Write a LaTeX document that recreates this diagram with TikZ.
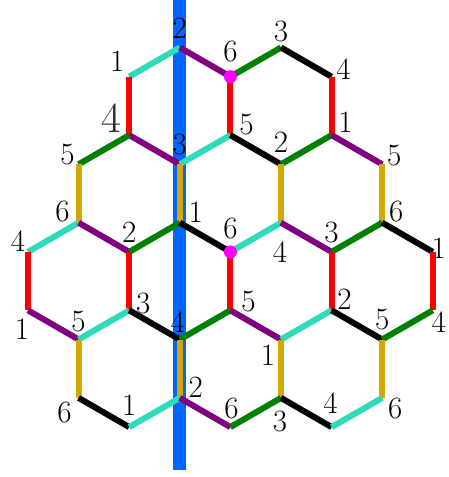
\documentclass[tikz,border=0pt]{standalone}
\usepackage{fontspec}
\definecolor{cCy}{RGB}{45,218,185}
\definecolor{cPu}{RGB}{128,0,128}
\definecolor{cGr}{RGB}{0,128,0}
\definecolor{cRd}{RGB}{255,0,0}
\definecolor{cYe}{RGB}{212,168,0}
\definecolor{cBl}{RGB}{0,102,255}
\definecolor{cMg}{RGB}{255,0,255}
\begin{document}
\begin{tikzpicture}[x=1pt,y=-1pt,
  edge/.style={line width=6pt,line cap=butt},
  ecyan/.style={edge,draw=cCy},
  epurple/.style={edge,draw=cPu},
  egreen/.style={edge,draw=cGr},
  eblack/.style={edge,draw=black},
  ered/.style={edge,draw=cRd},
  eyellow/.style={edge,draw=cYe},
  blueline/.style={line width=13pt,draw=cBl},
  lab/.style={inner sep=0pt,font=\fontsize{31}{36}\selectfont},
  biglab/.style={inner sep=0pt,font=\fontsize{43}{50}\selectfont,text=black!85},
  dot/.style={circle,fill=cMg,inner sep=0pt,minimum size=13pt}]
\useasboundingbox (0,0) rectangle (448,477);
\foreach \c in {0,...,8}{
  \foreach \l/\yy in {0/47.5,1/76.7,2/135.1,3/164.3,4/222.7,5/251.9,6/310.3,7/339.5,8/397.9,9/427.1}{
    \coordinate (v\c\l) at ({28+50.6*\c},\yy);
  }
}
\coordinate (btop) at (179.8,0);
\coordinate (bbot) at (179.8,470);
\draw[blueline] (btop) -- (bbot);
% top row
\draw[ecyan] (v21) -- (v30);
\draw[epurple] (v30) -- (v41);
\draw[egreen] (v41) -- (v50);
\draw[eblack] (v50) -- (v61);
\draw[ered] (v21) -- (v22);
\draw[ered] (v41) -- (v42);
\draw[ered] (v61) -- (v62);
\draw[epurple] (v22) -- (v33);
\draw[ecyan] (v33) -- (v42);
\draw[eblack] (v42) -- (v53);
\draw[egreen] (v53) -- (v62);
\draw[epurple] (v62) -- (v73);
\draw[egreen] (v13) -- (v22);
% second row
\draw[eyellow] (v13) -- (v14);
\draw[eyellow] (v33) -- (v34);
\draw[eyellow] (v53) -- (v54);
\draw[eyellow] (v73) -- (v74);
\draw[ecyan] (v05) -- (v14);
\draw[epurple] (v14) -- (v25);
\draw[egreen] (v25) -- (v34);
\draw[eblack] (v34) -- (v45);
\draw[ecyan] (v45) -- (v54);
\draw[epurple] (v54) -- (v65);
\draw[egreen] (v65) -- (v74);
\draw[eblack] (v74) -- (v85);
% third row
\draw[ered] (v05) -- (v06);
\draw[ered] (v25) -- (v26);
\draw[ered] (v45) -- (v46);
\draw[ered] (v65) -- (v66);
\draw[ered] (v85) -- (v86);
\draw[epurple] (v06) -- (v17);
\draw[ecyan] (v17) -- (v26);
\draw[eblack] (v26) -- (v37);
\draw[egreen] (v37) -- (v46);
\draw[epurple] (v46) -- (v57);
\draw[ecyan] (v57) -- (v66);
\draw[eblack] (v66) -- (v77);
\draw[egreen] (v77) -- (v86);
% bottom row
\draw[eyellow] (v17) -- (v18);
\draw[eyellow] (v37) -- (v38);
\draw[eyellow] (v57) -- (v58);
\draw[eyellow] (v77) -- (v78);
\draw[eblack] (v18) -- (v29);
\draw[ecyan] (v29) -- (v38);
\draw[epurple] (v38) -- (v49);
\draw[egreen] (v49) -- (v58);
\draw[eblack] (v58) -- (v69);
\draw[ecyan] (v69) -- (v78);
% dots
\node[dot] (d1) at (v41) {};
\node[dot] (d2) at (v45) {};
% labels
\node[lab] (t30) at ([shift={(0,-19)}]v30) {2};
\node[lab] (t21) at ([shift={(-12,-15)}]v21) {1};
\node[lab] (t41) at ([shift={(0,-25)}]v41) {6};
\node[lab] (t50) at ([shift={(0,-16)}]v50) {3};
\node[lab] (t61) at ([shift={(12,-8)}]v61) {4};
\node[biglab] (t22) at ([shift={(-18,-17)}]v22) {4};
\node[lab] (t42) at ([shift={(16,-11)}]v42) {5};
\node[lab] (t62) at ([shift={(14,-13)}]v62) {1};
\node[lab] (t13) at ([shift={(-11,-10)}]v13) {5};
\node[lab] (t33) at ([shift={(0,-20)}]v33) {3};
\node[lab] (t53) at ([shift={(0,-22)}]v53) {2};
\node[lab] (t73) at ([shift={(12,-9)}]v73) {5};
\node[lab] (t14) at ([shift={(-16,-11)}]v14) {6};
\node[lab] (t34) at ([shift={(16,-10)}]v34) {1};
\node[lab] (t54) at ([shift={(-1,29)}]v54) {4};
\node[lab] (t74) at ([shift={(14,-11)}]v74) {6};
\node[lab] (t05) at ([shift={(-10,-11)}]v05) {4};
\node[lab] (t25) at ([shift={(0,-20)}]v25) {2};
\node[lab] (t45) at ([shift={(0,-23)}]v45) {6};
\node[lab] (t65) at ([shift={(0,-19)}]v65) {3};
\node[lab] (t85) at ([shift={(6,-4)}]v85) {1};
\node[lab] (t06) at ([shift={(-6,19)}]v06) {1};
\node[lab] (t26) at ([shift={(14,-7)}]v26) {3};
\node[lab] (t46) at ([shift={(18,-9)}]v46) {5};
\node[lab] (t66) at ([shift={(13,-11)}]v66) {2};
\node[lab] (t86) at ([shift={(6,12)}]v86) {4};
\node[lab] (t17) at ([shift={(0,-18)}]v17) {5};
\node[lab] (t37) at ([shift={(-2,-17)}]v37) {4};
\node[lab] (t57) at ([shift={(-13,16)}]v57) {1};
\node[lab] (t77) at ([shift={(0,-20)}]v77) {5};
\node[lab] (t18) at ([shift={(-14,15)}]v18) {6};
\node[lab] (t38) at ([shift={(16,-11)}]v38) {2};
\node[lab] (t58) at ([shift={(-1,24)}]v58) {3};
\node[lab] (t78) at ([shift={(13,11)}]v78) {6};
\node[lab] (t29) at ([shift={(0,-22)}]v29) {1};
\node[lab] (t49) at ([shift={(1,-19)}]v49) {6};
\node[lab] (t69) at ([shift={(-1,-24)}]v69) {4};
\end{tikzpicture}
\end{document}
